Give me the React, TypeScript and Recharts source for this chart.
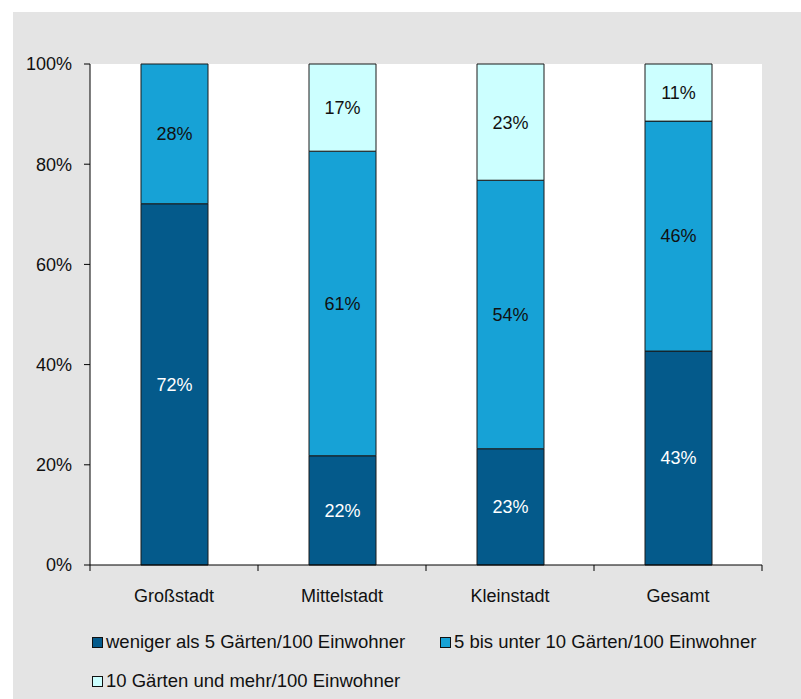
import { BarChart, Bar, XAxis, YAxis, LabelList } from "recharts";

const categories = ["Großstadt", "Mittelstadt", "Kleinstadt", "Gesamt"];
const seriesNames = [
  "weniger als 5 Gärten/100 Einwohner",
  "5 bis unter 10 Gärten/100 Einwohner",
  "10 Gärten und mehr/100 Einwohner",
];
const under5 = [72.1, 21.8, 23.2, 42.7];
const from5to10 = [27.9, 60.8, 53.6, 45.9];
const over10 = [0, 17.4, 23.2, 11.4];
const yTicks = [0, 20, 40, 60, 80, 100];

const colors = ["#045a8b", "#17a2d6", "#ccffff"];
const font = "Arial, 'Liberation Sans', sans-serif";

const data = categories.map((name, i) => ({
  name,
  a: under5[i],
  b: from5to10[i],
  c: over10[i],
}));

const fmt = (v: any) => (Number(v) > 0 ? `${Math.round(Number(v))}%` : "");

// category label plus tick marks at the band edges
const CatTick = (props: any) => {
  const { x, y, payload, index, visibleTicksCount } = props;
  const half = payload.offset || 84;
  const last = index === visibleTicksCount - 1;
  return (
    <g>
      <line x1={x - half} x2={x - half} y1={y} y2={y + 6} stroke="#000" />
      {last && <line x1={x + half} x2={x + half} y1={y} y2={y + 6} stroke="#000" />}
      <text x={x} y={y + 24} dy="0.71em" textAnchor="middle" fill="#111" fontSize={18} fontFamily={font}>
        {payload.value}
      </text>
    </g>
  );
};

export default function App() {
  return (
    <div
      style={{
        position: "fixed",
        left: 13,
        top: 12,
        width: 788,
        height: 687,
        background: "#e4e4e4",
        fontFamily: font,
      }}
    >
      <BarChart
        width={788}
        height={687}
        data={data}
        margin={{ top: 52, right: 39, left: 0, bottom: 104 }}
      >
        <rect x={77} y={52} width={672} height={501} fill="#ffffff" />
        <XAxis
          dataKey="name"
          height={30}
          interval={0}
          axisLine={{ stroke: "#000" }}
          tickLine={false}
          tickSize={0}
          tickMargin={0}
          tick={<CatTick />}
        />
        <YAxis
          width={77}
          domain={[0, 100]}
          ticks={yTicks}
          tickFormatter={(v) => `${v}%`}
          tickSize={6}
          tickMargin={12}
          axisLine={{ stroke: "#000" }}
          tickLine={{ stroke: "#000" }}
          tick={{ fill: "#111", fontSize: 18, fontFamily: font }}
        />
        <Bar dataKey="a" stackId="s" fill={colors[0]} stroke="#1a1a1a" barSize={67} isAnimationActive={false}>
          <LabelList dataKey="a" position="center" formatter={fmt} fill="#ffffff" fontSize={18} fontFamily={font} />
        </Bar>
        <Bar dataKey="b" stackId="s" fill={colors[1]} stroke="#1a1a1a" barSize={67} isAnimationActive={false}>
          <LabelList dataKey="b" position="center" formatter={fmt} fill="#111" fontSize={18} fontFamily={font} />
        </Bar>
        <Bar dataKey="c" stackId="s" fill={colors[2]} stroke="#1a1a1a" barSize={67} isAnimationActive={false}>
          <LabelList dataKey="c" position="center" formatter={fmt} fill="#111" fontSize={18} fontFamily={font} />
        </Bar>
      </BarChart>
      {seriesNames.map((n, i) => (
        <div
          key={n}
          style={{
            position: "absolute",
            left: i === 1 ? 427 : 79,
            top: i === 2 ? 669 - 11 : 630 - 11,
            display: "flex",
            alignItems: "center",
            fontSize: 18.5,
            color: "#111",
            lineHeight: "22px",
            whiteSpace: "nowrap",
          }}
        >
          <span
            style={{
              display: "inline-block",
              width: 9,
              height: 9,
              background: colors[i],
              border: "1px solid #111",
              marginRight: 3,
            }}
          />
          {n}
        </div>
      ))}
    </div>
  );
}
